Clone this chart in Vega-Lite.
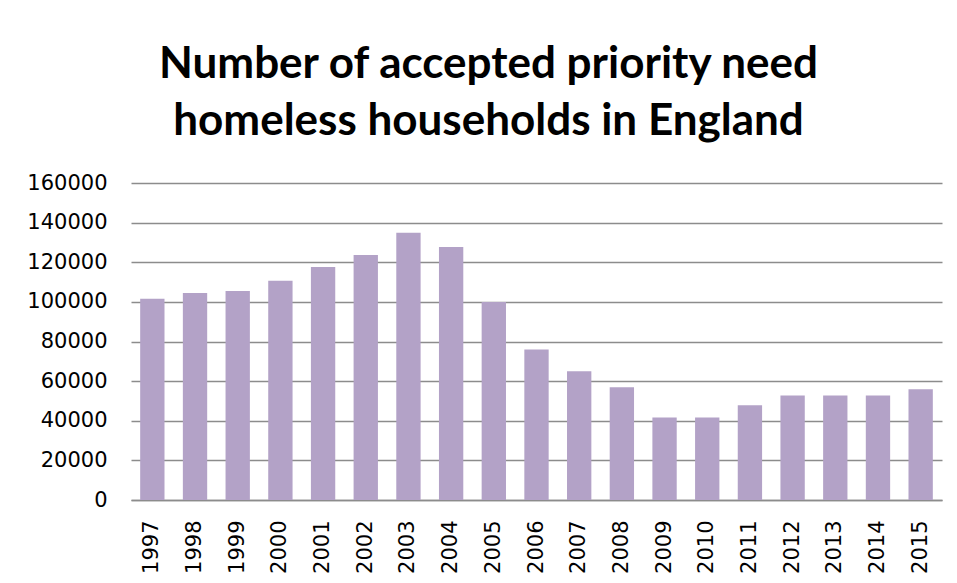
{
  "$schema": "https://vega.github.io/schema/vega-lite/v6.json",
  "width": 811,
  "height": 317,
  "autosize": {"type": "none"},
  "padding": {"left": 131, "top": 183, "right": 15, "bottom": 83},
  "background": "#ffffff",
  "title": {
    "text": ["Number of accepted priority need", "homeless households in England"],
    "font": "Lato",
    "fontSize": 44,
    "fontWeight": "bold",
    "color": "#000000",
    "lineHeight": 57,
    "anchor": "middle",
    "frame": "group",
    "dx": -48,
    "offset": 28
  },
  "data": {
    "values": [
      {"year": "1997", "households": 101600},
      {"year": "1998", "households": 104500},
      {"year": "1999", "households": 105500},
      {"year": "2000", "households": 110700},
      {"year": "2001", "households": 117600},
      {"year": "2002", "households": 123700},
      {"year": "2003", "households": 134900},
      {"year": "2004", "households": 127700},
      {"year": "2005", "households": 100000},
      {"year": "2006", "households": 76000},
      {"year": "2007", "households": 65000},
      {"year": "2008", "households": 56900},
      {"year": "2009", "households": 41700},
      {"year": "2010", "households": 41700},
      {"year": "2011", "households": 47800},
      {"year": "2012", "households": 52800},
      {"year": "2013", "households": 52800},
      {"year": "2014", "households": 52800},
      {"year": "2015", "households": 55900}
    ]
  },
  "mark": {"type": "bar", "color": "#b3a2c7"},
  "encoding": {
    "x": {
      "field": "year",
      "type": "ordinal",
      "scale": {"paddingInner": 0.43, "paddingOuter": 0.215},
      "axis": {
        "title": null,
        "labelAngle": -90,
        "labelAlign": "right",
        "labelBaseline": "middle",
        "labelFont": "DejaVu Sans",
        "labelFontSize": 21,
        "labelColor": "#000000",
        "labelPadding": 20,
        "ticks": false,
        "domainColor": "#8c8c8c",
        "domainWidth": 1.5
      }
    },
    "y": {
      "field": "households",
      "type": "quantitative",
      "scale": {"domain": [0, 160000]},
      "axis": {
        "title": null,
        "values": [0, 20000, 40000, 60000, 80000, 100000, 120000, 140000, 160000],
        "format": "d",
        "labelFont": "DejaVu Sans",
        "labelFontSize": 21,
        "labelColor": "#000000",
        "labelPadding": 24,
        "ticks": false,
        "domain": false,
        "grid": true,
        "gridColor": "#8c8c8c",
        "gridWidth": 1.5
      }
    }
  },
  "config": {
    "view": {"stroke": null}
  }
}
